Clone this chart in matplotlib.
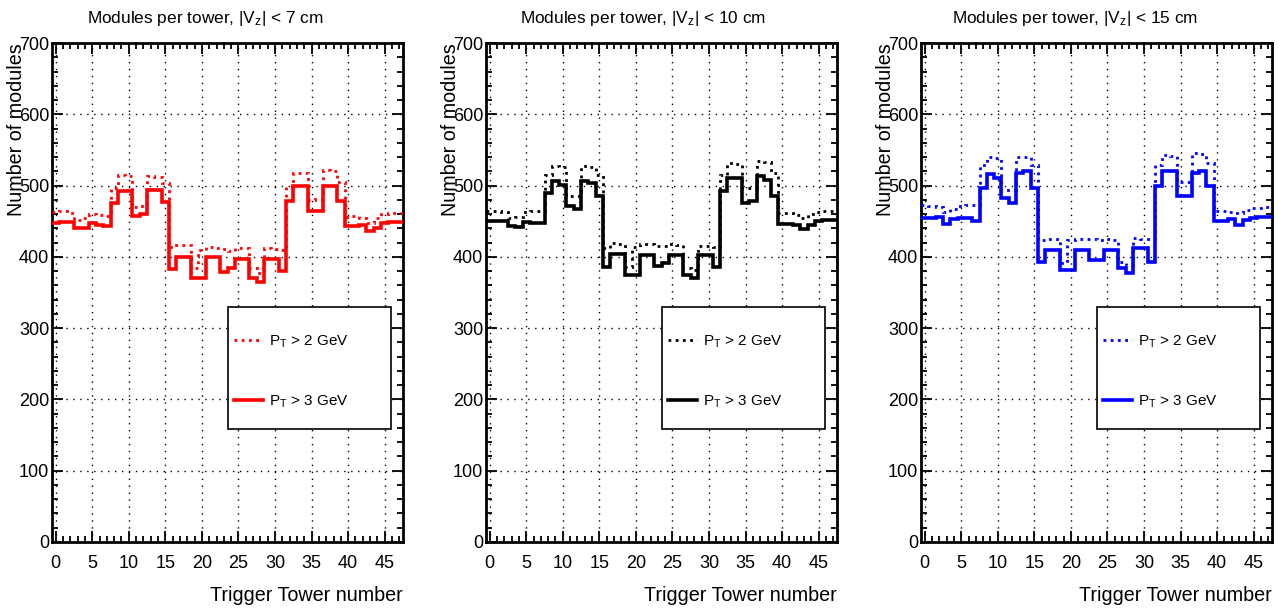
import numpy as np
import matplotlib
matplotlib.use("Agg")
import matplotlib.pyplot as plt
from matplotlib.patches import Rectangle
from matplotlib.ticker import MultipleLocator

plt.rcParams['font.family'] = ['Liberation Sans', 'DejaVu Sans']
plt.rcParams['mathtext.fontset'] = 'custom'
plt.rcParams['mathtext.rm'] = 'Liberation Sans'
plt.rcParams['mathtext.it'] = 'Liberation Sans:italic'

# trigger towers 0..47, one bin each
n_towers = 48

vz_cuts = ["7", "10", "15"]
colors = ["#ff0000", "#000000", "#0000ff"]

# modules per tower, P_T > 3 GeV (solid)
vz7_pt3 = [447, 449, 449, 440, 440, 447, 445, 443, 476, 493,
           493, 457, 460, 494, 494, 477, 383, 400, 400, 371,
           371, 400, 400, 379, 385, 397, 397, 370, 365, 397,
           397, 380, 478, 500, 500, 464, 464, 500, 500, 479,
           443, 443, 444, 436, 441, 448, 449, 449]
vz10_pt3 = [451, 451, 450, 443, 442, 449, 447, 447, 489, 507,
            501, 471, 467, 507, 504, 485, 386, 404, 404, 375,
            375, 403, 403, 387, 391, 403, 403, 375, 370, 403,
            403, 386, 493, 511, 511, 475, 478, 514, 508, 485,
            446, 446, 444, 439, 445, 451, 452, 452]
vz15_pt3 = [455, 455, 456, 446, 453, 455, 455, 451, 496, 516,
            511, 482, 476, 518, 520, 496, 393, 409, 410, 381,
            381, 410, 410, 396, 396, 410, 409, 384, 378, 412,
            412, 393, 499, 521, 521, 485, 485, 517, 521, 500,
            451, 451, 453, 445, 452, 455, 456, 456]

# modules per tower, P_T > 2 GeV (dotted)
vz7_pt2 = [463, 465, 462, 452, 455, 460, 459, 458, 497, 515,
           514, 470, 472, 513, 512, 503, 414, 417, 416, 384,
           410, 414, 413, 411, 408, 413, 412, 384, 377, 412,
           411, 410, 498, 517, 518, 480, 481, 522, 521, 505,
           456, 457, 455, 447, 455, 460, 461, 462]
vz10_pt2 = [464, 465, 463, 454, 456, 463, 464, 464, 515, 528,
            526, 485, 485, 527, 526, 515, 412, 419, 418, 386,
            414, 418, 418, 415, 415, 418, 416, 384, 381, 415,
            415, 414, 515, 531, 530, 496, 497, 534, 533, 517,
            461, 461, 459, 454, 460, 463, 464, 465]
vz15_pt2 = [473, 472, 470, 463, 467, 472, 473, 473, 529, 540,
            539, 494, 494, 540, 540, 529, 424, 425, 425, 391,
            424, 425, 425, 425, 424, 425, 423, 393, 388, 426,
            425, 425, 529, 543, 542, 505, 505, 545, 544, 531,
            465, 465, 463, 462, 466, 468, 468, 470]

pt2_sets = [vz7_pt2, vz10_pt2, vz15_pt2]
pt3_sets = [vz7_pt3, vz10_pt3, vz15_pt3]

edges = np.arange(n_towers + 1) - 0.5

W, H = 1285, 609
fig = plt.figure(figsize=(W / 100, H / 100), dpi=100)

lefts = [52, 486, 921]
title_x = [205, 643, 1075]

for i in range(3):
    ax = fig.add_axes([lefts[i] / W, (H - 542) / H, 351 / W, 499 / H])
    c = colors[i]
    ax.stairs(pt2_sets[i], edges, color=c, lw=2.0, linestyle=(0, (1, 1.6)),
              baseline=None, label=r"P$_\mathrm{T}$ > 2 GeV", zorder=3)
    ax.stairs(pt3_sets[i], edges, color=c, lw=2.6,
              baseline=None, label=r"P$_\mathrm{T}$ > 3 GeV", zorder=4)

    ax.set_xlim(-0.5, 47.5)
    ax.set_ylim(0, 700)
    ax.xaxis.set_major_locator(MultipleLocator(5))
    ax.xaxis.set_minor_locator(MultipleLocator(1))
    ax.yaxis.set_major_locator(MultipleLocator(100))
    ax.yaxis.set_minor_locator(MultipleLocator(20))
    ax.tick_params(which='both', direction='in', top=True, right=True,
                   width=1.3, labelsize=13)
    ax.tick_params(which='major', length=8)
    ax.tick_params(which='minor', length=4.5)
    ax.tick_params(axis='x', pad=9)
    ax.tick_params(axis='y', pad=2)
    ax.grid(True, which='major', color='black', lw=1.0, linestyle=(0, (1, 4)))
    ax.set_axisbelow(True)
    for s in ax.spines.values():
        s.set_linewidth(2.0)

    ax.text(-0.10, 1.0, "Number of modules", transform=ax.transAxes,
            rotation=90, ha='center', va='top', fontsize=14.2)
    ax.text(1.0, -0.107, "Trigger Tower number", transform=ax.transAxes,
            ha='right', va='center', fontsize=14.2)
    fig.text(title_x[i] / W, 1 - 19 / H,
             r"Modules per tower, |V$_\mathrm{z}$| < " + vz_cuts[i] + " cm",
             ha='center', va='center', fontsize=12.4)

    # legend box
    ax.add_patch(Rectangle((0.502, 0.226), 0.464, 0.245, transform=ax.transAxes,
                           fill=True, facecolor='white', edgecolor='black',
                           lw=1.2, zorder=5))
    leg = ax.legend(loc='upper left', bbox_to_anchor=(0.518, 0.418),
                    frameon=False, fontsize=11, borderpad=0, borderaxespad=0,
                    handlelength=1.9, handletextpad=0.4, labelspacing=2.85)
    leg.set_zorder(6)

fig.savefig("out.png", dpi=100)
